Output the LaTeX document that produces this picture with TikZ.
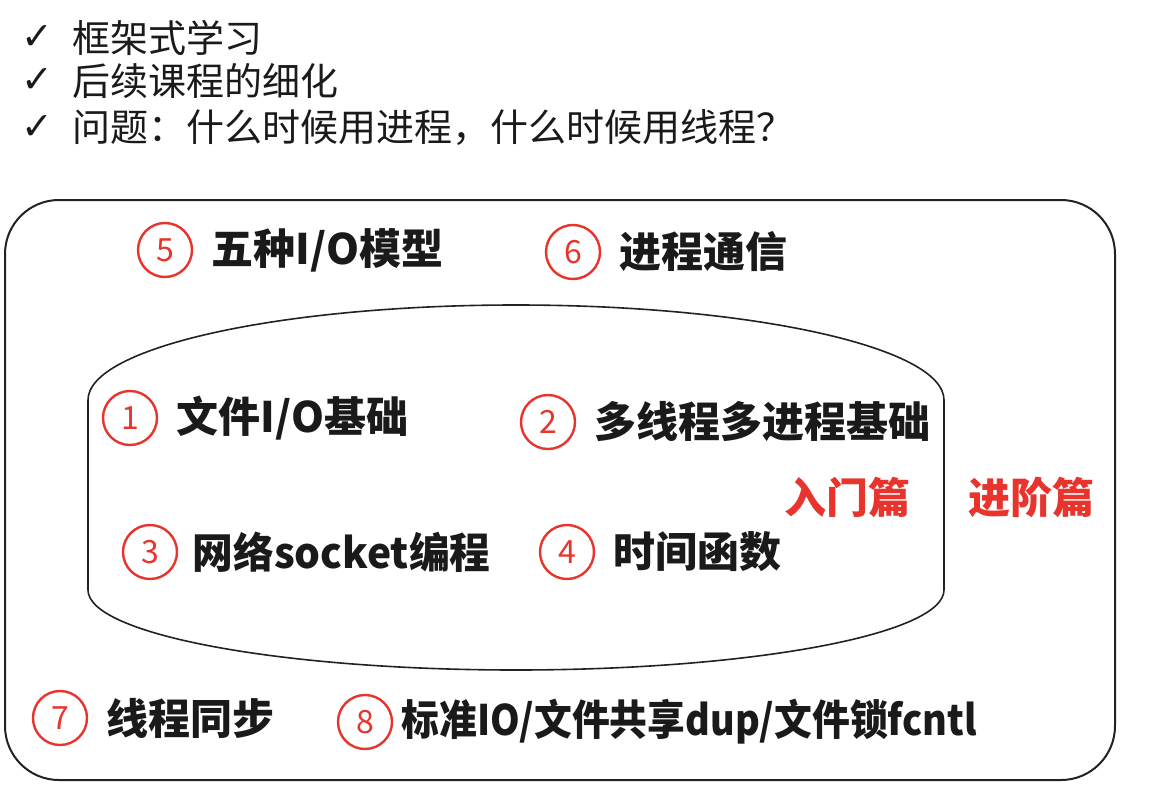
\documentclass[tikz,border=0pt]{standalone}
\usepackage{fontspec}
\setmainfont{Noto Sans CJK SC}
\newfontfamily\symfont{DejaVu Sans}
\usetikzlibrary{positioning}
\definecolor{ink}{HTML}{1A1A1A}
\definecolor{mark}{HTML}{E8342C}
\definecolor{rim}{HTML}{222222}
\tikzset{
  num/.style={circle,draw=mark,line width=1.2pt,minimum size=27pt,inner sep=0pt,text=mark,font=\fontsize{16}{16}\selectfont},
  topic/.style={inner sep=0pt,font=\fontsize{21}{21}\selectfont\bfseries,text=ink},
  lvl/.style={inner sep=0pt,font=\fontsize{21}{21}\selectfont\bfseries,text=mark},
  tick/.style={inner sep=0pt,font=\symfont\fontsize{19}{19}\selectfont,text=ink},
  pt/.style={inner sep=0pt,anchor=west,font=\fontsize{19}{19}\selectfont,text=ink},
  frame/.style={draw=rim,line width=1pt,rounded corners=27pt},
  pool/.style={draw=rim,line width=0.8pt}}

\begin{document}
\begin{tikzpicture}[x=0.5pt,y=-0.5pt,node distance=0pt and 9pt]
\useasboundingbox (0,0) rectangle (1158,803);
% checklist
\node[tick] (k1) at (37,38) {✓};
\node[pt] (p1) at (72,38) {框架式学习};
\node[tick] (k2) at (37,81) {✓};
\node[pt] (p2) at (72,81) {后续课程的细化};
\node[tick] (k3) at (37,128) {✓};
\node[pt] (p3) at (72,128) {问题：什么时候用进程，什么时候用线程？};
% outer frame and inner pool
\draw[frame] (5,200) rectangle (1115,780);
\draw[pool] (88,400) arc[start angle=180,end angle=0,x radius=214pt,y radius=47.5pt]
  -- (944,590) arc[start angle=0,end angle=-180,x radius=214pt,y radius=40pt] -- cycle;
% advanced topics
\node[num] (c5) at (165,250) {5};
\node[topic,right=of c5] (t5) {五种I/O模型};
\node[num] (c6) at (573,252) {6};
\node[topic,right=of c6] (t6) {进程通信};
% basic topics
\node[num] (c1) at (130,418) {1};
\node[topic,right=of c1] (t1) {文件I/O基础};
\node[num] (c2) at (548,422) {2};
\node[topic,right=of c2] (t2) {多线程多进程基础};
\node[num] (c3) at (150,552) {3};
\node[topic,right=7pt of c3] (t3) {\scalebox{0.97}[1]{网络socket编程}};
\node[num] (c4) at (567,552) {4};
\node[topic,right=of c4] (t4) {时间函数};
\node[lvl] (l1) at (847,497) {入门篇};
\node[lvl] (l2) at (1031,497) {进阶篇};
% advanced, below
\node[num] (c7) at (60,718) {7};
\node[topic,right=of c7] (t7) {线程同步};
\node[num] (c8) at (365,722) {8};
\node[topic,right=4pt of c8] (t8) {\scalebox{0.9}[1]{标准IO/文件共享dup/文件锁fcntl}};
\end{tikzpicture}
\end{document}
